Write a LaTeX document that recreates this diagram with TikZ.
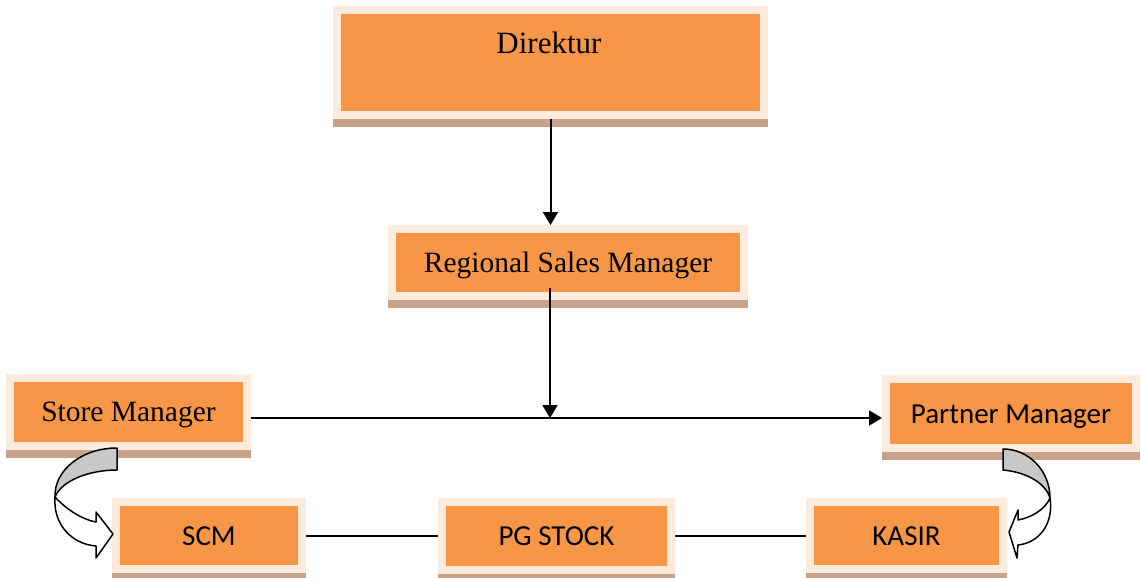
\documentclass[tikz,border=0pt]{standalone}
\usepackage{fontspec}
\newfontfamily\serifA{Liberation Serif}
\newfontfamily\sansA{Carlito}
\usetikzlibrary{arrows.meta}
\definecolor{orangec}{RGB}{247,150,70}
\definecolor{palec}{RGB}{253,236,222}
\definecolor{shadowc}{RGB}{200,162,138}
\definecolor{grayc}{RGB}{200,200,200}
\tikzset{
  box/.style={draw=palec, line width=8pt, fill=orangec, inner sep=0pt,
    text height=19pt, text depth=0pt,
    preaction={draw=shadowc, fill=shadowc, transform canvas={yshift=-8pt}}},
  serifbox/.style={box, font=\serifA\fontsize{29.5}{34}\selectfont},
  sansbox/.style={box, font=\sansA\fontsize{29}{34}\selectfont},
  conn/.style={line width=2pt, black},
  arr/.style={conn, -{Triangle[length=13pt,width=15pt]}},
  curvearrow/.style={draw=black, line width=1.5pt, line join=round},
}
\begin{document}
\begin{tikzpicture}[x=1pt,y=-1pt]
\useasboundingbox (0,0) rectangle (1141,578);
% boxes
\node[box, minimum width=427pt, minimum height=105pt] (dir) at (550.5,62.5) {};
\node[font=\serifA\fontsize{31}{36}\selectfont, text height=20.5pt, text depth=0pt, inner sep=0pt] (dirtext) at (549,43.5) {Direktur};
\node[serifbox, minimum width=352pt, minimum height=67pt] (rsm) at (568,262.5) {Regional Sales Manager};
\node[serifbox, minimum width=237pt, minimum height=68pt] (sm) at (128.5,412) {Store Manager};
\node[sansbox, minimum width=250pt, minimum height=69pt] (pm) at (1011,413.5) {Partner Manager};
\node[sansbox, minimum width=186pt, minimum height=67pt] (scm) at (209,535.5) {SCM};
\node[sansbox, minimum width=229pt, minimum height=68pt] (pg) at (556.5,535.5) {PG STOCK};
\node[sansbox, minimum width=193pt, minimum height=67pt] (kasir) at (906.5,535.5) {KASIR};
% connectors
\coordinate (j) at (550,418);
\draw[arr] (dir.south) -- (dir.south |- rsm.north);
\draw[arr] ([yshift=12pt]rsm.south -| j) -- (j);
\draw[arr] (sm.east |- j) -- (pm.west |- j);
\draw[conn] (scm.east) -- (pg.west);
\draw[conn] (pg.east) -- (kasir.west);
% left curved arrow
\path[curvearrow, fill=grayc] (117,448) -- (117,470) .. controls (90,470) and (62,480) .. (55,497)
  .. controls (54,470) and (82,448) .. (117,448) -- cycle;
\path[curvearrow, fill=white] (55,497) .. controls (64,507) and (80,519) .. (96,522)
  -- (96,512) -- (113,534) -- (96,558) -- (96,546)
  .. controls (72,544) and (53,525) .. (55,497) -- cycle;
% right curved arrow
\path[curvearrow, fill=grayc] (1003,449) -- (1003,470) .. controls (1025,472) and (1045,482) .. (1050,498)
  .. controls (1050,471) and (1029,449) .. (1003,449) -- cycle;
\path[curvearrow, fill=white] (1050,498) .. controls (1045,510) and (1030,518) .. (1018,520)
  -- (1018,510) -- (1009,532) -- (1017,558) -- (1018,545)
  .. controls (1038,543) and (1054,525) .. (1050,498) -- cycle;
\end{tikzpicture}
\end{document}
